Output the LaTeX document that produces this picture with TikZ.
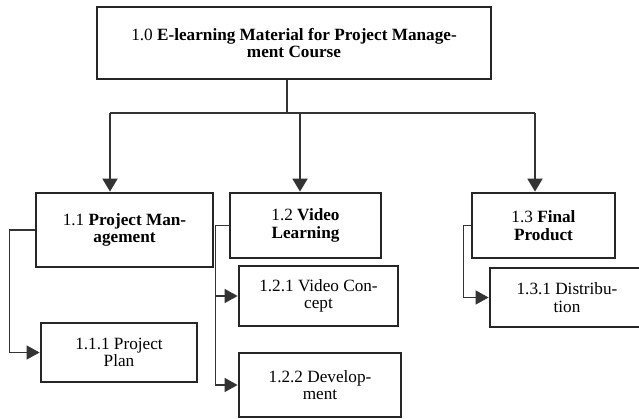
\documentclass[tikz,border=0pt]{standalone}
\usepackage{fontspec}
\setmainfont{Liberation Serif}
\usetikzlibrary{arrows.meta, positioning}

\begin{document}
\begin{tikzpicture}[
    x=1pt, y=-1pt,
    every node/.style={font=\fontsize{17.2}{17.5}\selectfont},
    box/.style={draw=black!85, line width=2.8pt, align=center, inner sep=0pt},
    trunk/.style={draw=black!80, line width=1.9pt},
    branch/.style={trunk, -{Triangle[length=13pt, width=15pt]}},
    side/.style={draw=black!80, line width=1.3pt, -{Triangle[length=13pt, width=14pt]}}
]
    \useasboundingbox (0,0) rectangle (639,419);

    % Boxes
    \node[box, minimum width=394pt, minimum height=72pt] (course) at (294,43)
        {1.0 \textbf{E-learning Material for Project Manage-}\\\textbf{ment Course}};
    \node[box, minimum width=177pt, minimum height=74pt] (pm) at (124.5,230)
        {1.1 \textbf{Project Man-}\\\textbf{agement}};
    \node[box, minimum width=151pt, minimum height=65pt] (video) at (305.5,225.5)
        {1.2 \textbf{Video}\\\textbf{Learning}};
    \node[box, minimum width=143pt, minimum height=65pt] (final) at (543.5,225.5)
        {1.3 \textbf{Final}\\\textbf{Product}};

    \node[box, minimum width=156pt, minimum height=59pt] (plan) at (119,352.5)
        {1.1.1 Project\\Plan};
    \node[box, minimum width=159pt, minimum height=60pt] (concept) at (318.5,296)
        {1.2.1 Video Con-\\cept};
    \node[box, minimum width=162pt, minimum height=64pt] (devel) at (320,385)
        {1.2.2 Develop-\\ment};
    \node[box, minimum width=154pt, minimum height=59pt] (distr) at (567,297.5)
        {1.3.1 Distribu-\\tion};

    % Top level split
    \coordinate (hub) at (287,113);
    \coordinate (j1) at (110,113);
    \coordinate (j2) at (300,113);
    \coordinate (j3) at (535,113);
    \draw[trunk] (course.south -| hub) -- (hub);
    \draw[trunk] (j1) -- (j3);
    \draw[branch] (j1) -- (j1 |- pm.north);
    \draw[branch] (j2) -- (j2 |- video.north);
    \draw[branch] (j3) -- (j3 |- final.north);

    % Sub tasks
    \draw[side] (pm.west) -- ++(-25,0) |- (plan.west);
    \draw[side] (video.west) -- ++(-13,0) coordinate (vtap) |- (concept.west);
    \draw[side] (vtap) |- (devel.west);
    \draw[side] (final.west) -- ++(-7,0) |- (distr.west);

\end{tikzpicture}
\end{document}
